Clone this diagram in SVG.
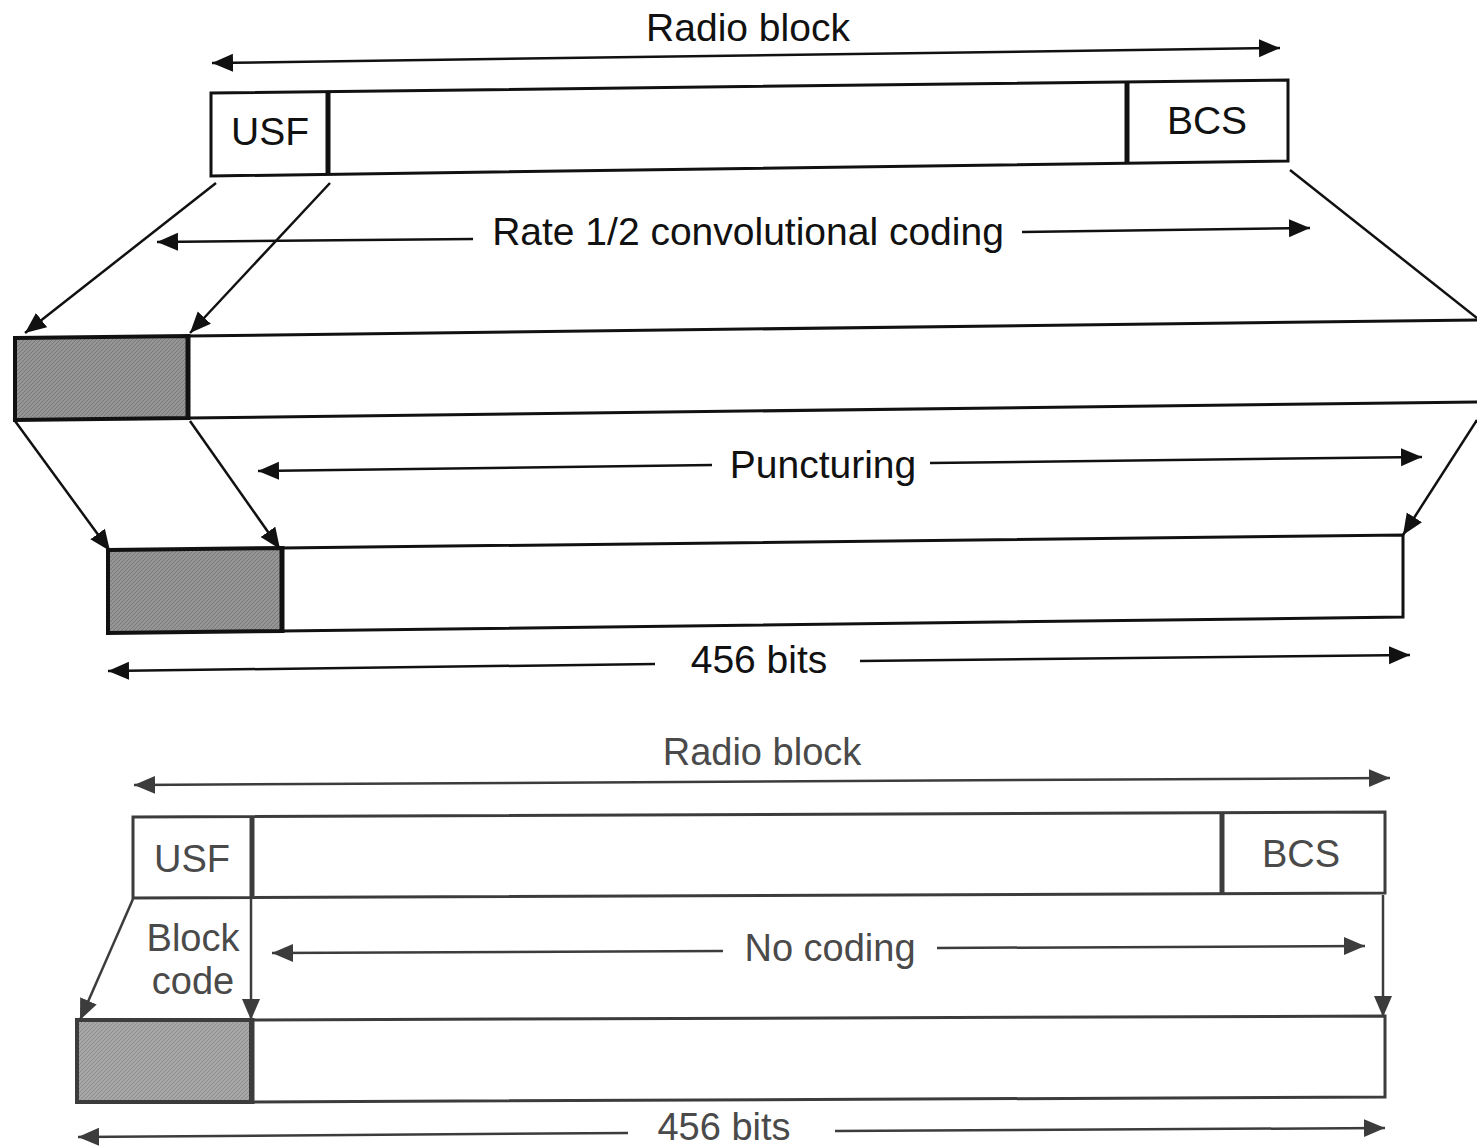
<svg xmlns="http://www.w3.org/2000/svg" width="1477" height="1148" viewBox="0 0 1477 1148">
<style>
text{font-family:"Liberation Sans",Arial,sans-serif;text-anchor:middle}
.t1{font-size:39px;fill:#111}
.t2{font-size:38px;fill:#4a4a4a}
.k{stroke:#111;fill:none}
.g{stroke:#3c3c3c;fill:none}
.a1{stroke:#111;stroke-width:2.5;fill:none;marker-end:url(#ah1)}
.a1d{stroke:#111;stroke-width:2.5;fill:none;marker-end:url(#ah1);marker-start:url(#ah1)}
.a2{stroke:#3c3c3c;stroke-width:2.5;fill:none;marker-end:url(#ah2)}
.a2d{stroke:#3c3c3c;stroke-width:2.5;fill:none;marker-end:url(#ah2);marker-start:url(#ah2)}
</style>
<defs>
<marker id="ah1" markerUnits="userSpaceOnUse" markerWidth="24" markerHeight="20" refX="21" refY="9" orient="auto-start-reverse"><path d="M0,0 L21,9 L0,18 z" fill="#111"/></marker>
<marker id="ah2" markerUnits="userSpaceOnUse" markerWidth="24" markerHeight="20" refX="21" refY="9" orient="auto-start-reverse"><path d="M0,0 L21,9 L0,18 z" fill="#3c3c3c"/></marker>
<pattern id="sh1" width="4" height="4" patternUnits="userSpaceOnUse"><rect width="4" height="4" fill="#959595"/><path d="M0,4 L4,0" stroke="#7a7a7a" stroke-width="1"/></pattern>
<pattern id="sh2" width="4" height="4" patternUnits="userSpaceOnUse"><rect width="4" height="4" fill="#a6a6a6"/><path d="M0,4 L4,0" stroke="#8e8e8e" stroke-width="1"/></pattern>
</defs>

<g id="top-radio-block">
<polygon class="k" stroke-width="3" points="211,93 1288,80 1288,161 211,176"/>
<line class="k" stroke-width="5" x1="328" y1="91.6" x2="328" y2="174.5"/>
<line class="k" stroke-width="5" x1="1127" y1="82" x2="1127" y2="163.2"/>
<text class="t1" x="270" y="145">USF</text>
<text class="t1" x="1207" y="134">BCS</text>
</g>

<g id="coded-block">
<polygon points="15,338 188,336 188,418 15,420" fill="url(#sh1)" stroke="#111" stroke-width="4"/>
<line class="k" stroke-width="3" x1="188" y1="336" x2="1477" y2="320"/>
<line class="k" stroke-width="3" x1="188" y1="418" x2="1477" y2="402"/>
<line class="k" stroke-width="5" x1="188" y1="334" x2="188" y2="420"/>
</g>

<g id="punctured-block">
<polygon points="108,550 282,548 282,631 108,633" fill="url(#sh1)" stroke="#111" stroke-width="4"/>
<polyline class="k" stroke-width="3" points="282,548 1403,535 1403,617 282,631"/>
<line class="k" stroke-width="5" x1="282" y1="546" x2="282" y2="633"/>
</g>

<g id="bottom-radio-block">
<polygon class="g" stroke-width="3" points="133,817 1385,812 1385,893 133,898"/>
<line class="g" stroke-width="5" x1="252" y1="816" x2="252" y2="898"/>
<line class="g" stroke-width="5" x1="1222" y1="812" x2="1222" y2="894"/>
<text class="t2" x="192" y="872">USF</text>
<text class="t2" x="1301" y="867">BCS</text>
</g>

<g id="bottom-coded-block">
<polygon points="77,1020 251,1020 251,1102 77,1102" fill="url(#sh2)" stroke="#3c3c3c" stroke-width="4"/>
<polyline class="g" stroke-width="3" points="251,1020 1385,1016 1385,1097 251,1102"/>
<line class="g" stroke-width="5" x1="252" y1="1018" x2="252" y2="1104"/>
</g>

<g id="labels">
<text class="t1" x="748" y="41">Radio block</text>
<text class="t1" x="748" y="245">Rate 1/2 convolutional coding</text>
<text class="t1" x="823" y="478">Puncturing</text>
<text class="t1" x="759" y="673">456 bits</text>
<text class="t2" x="762" y="765">Radio block</text>
<text class="t2" x="193" y="951">Block</text>
<text class="t2" x="193" y="994">code</text>
<text class="t2" x="830" y="961">No coding</text>
<text class="t2" x="724" y="1140">456 bits</text>
</g>

<g id="connectors">
<line class="a1d" x1="212" y1="63" x2="1280" y2="48"/>
<line class="a1" x1="216" y1="183" x2="25" y2="333"/>
<line class="a1" x1="330" y1="183" x2="190" y2="333"/>
<line class="k" stroke-width="2.5" x1="1290" y1="170" x2="1477" y2="318"/>
<line class="a1" x1="473" y1="239" x2="157" y2="242"/>
<line class="a1" x1="1022" y1="232" x2="1310" y2="228"/>
<line class="a1" x1="15" y1="421" x2="110" y2="551"/>
<line class="a1" x1="190" y1="421" x2="280" y2="549"/>
<line class="a1" x1="1477" y1="420" x2="1403" y2="535"/>
<line class="a1" x1="712" y1="465" x2="258" y2="471"/>
<line class="a1" x1="930" y1="463" x2="1422" y2="457"/>
<line class="a1" x1="655" y1="664" x2="108" y2="671"/>
<line class="a1" x1="860" y1="661" x2="1410" y2="655"/>
<line class="a2d" x1="134" y1="785" x2="1390" y2="778"/>
<line class="a2" x1="133" y1="899" x2="80" y2="1020"/>
<line class="a2" x1="251" y1="899" x2="251" y2="1020"/>
<line class="a2" x1="1383" y1="895" x2="1383" y2="1017"/>
<line class="a2" x1="723" y1="951" x2="272" y2="953"/>
<line class="a2" x1="937" y1="948" x2="1365" y2="946"/>
<line class="a2" x1="628" y1="1133" x2="78" y2="1137"/>
<line class="a2" x1="835" y1="1131" x2="1385" y2="1128"/>
</g>
</svg>
